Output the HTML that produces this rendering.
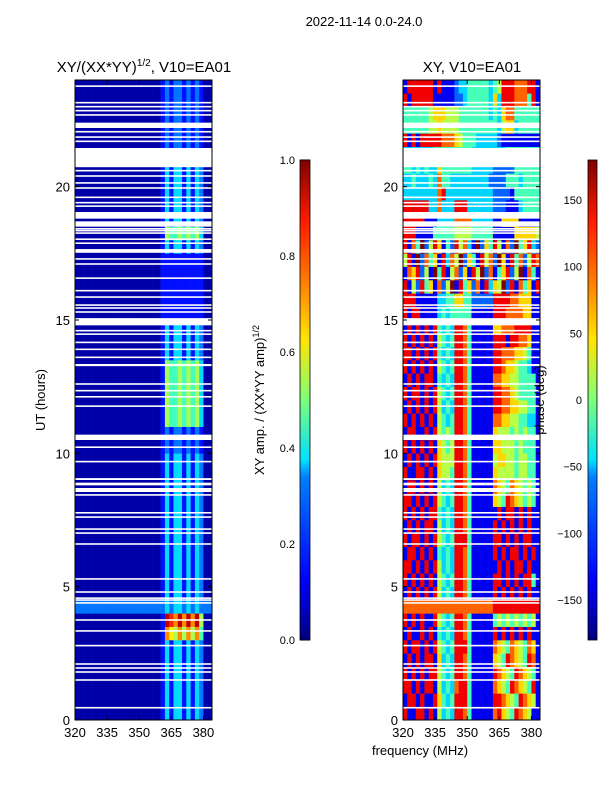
<!DOCTYPE html>
<html><head><meta charset="utf-8">
<style>
html,body{margin:0;padding:0;background:#fff;}
svg{display:block;font-family:"Liberation Sans",sans-serif;}
</style></head>
<body>
<svg id="fig" width="600" height="800" viewBox="0 0 600 800" xmlns="http://www.w3.org/2000/svg">
<defs>
<linearGradient id="jet" x1="0" y1="1" x2="0" y2="0">
<stop offset="0" stop-color="#00007f"/><stop offset="0.125" stop-color="#0000ff"/>
<stop offset="0.34" stop-color="#0080ff"/><stop offset="0.375" stop-color="#00e0ff"/>
<stop offset="0.5" stop-color="#7dff7a"/><stop offset="0.625" stop-color="#ffe600"/>
<stop offset="0.75" stop-color="#ff7a00"/><stop offset="0.875" stop-color="#ff1a00"/>
<stop offset="1" stop-color="#7f0000"/>
</linearGradient>
</defs>
<text x="364" y="26" font-size="13" text-anchor="middle">2022-11-14 0.0-24.0</text>
<text x="144" y="72" font-size="15" text-anchor="middle">XY/(XX*YY)<tspan font-size="10" dy="-6">1/2</tspan><tspan dy="6">, V10=EA01</tspan></text>
<text x="472" y="72" font-size="15" text-anchor="middle">XY, V10=EA01</text>
<g id="left"></g>
<g id="right"></g>
<g id="axes"></g>
<text x="45" y="400" font-size="13" text-anchor="middle" transform="rotate(-90 45 400)">UT (hours)</text>
<text x="420" y="755" font-size="13" text-anchor="middle">frequency (MHz)</text>
<rect x="300" y="160" width="10" height="480" fill="url(#jet)" stroke="#000" stroke-width="0.8"/>
<rect x="588" y="160" width="9" height="480" fill="url(#jet)" stroke="#000" stroke-width="0.8"/>
<text x="264" y="400" font-size="13" text-anchor="middle" transform="rotate(-90 264 400)">XY amp. / (XX*YY amp)<tspan font-size="9" dy="-5">1/2</tspan></text>
<text x="544" y="400" font-size="13" text-anchor="middle" transform="rotate(-90 544 400)">phase (deg)</text>
</svg>
<script>
const freqMin = 320, freqMax = 384;
const hourMin = 0, hourMax = 24;
const xTicks = [320, 335, 350, 365, 380];
const yTicks = [0, 5, 10, 15, 20];
const ampTicks = [0.0, 0.2, 0.4, 0.6, 0.8, 1.0];
const phaseTicks = [-150, -100, -50, 0, 50, 100, 150];
const ampProfiles = {
  A: "00000000000000000000131331313200",
  B: "00000000000000000000154454545300",
  C: "00000000000000000000176575757400",
  D: "00000000000000000000198797979500",
  E: "00000000000000000000121221212100",
  F: "00000000000000000000111111111100",
  S: "22222222222222222222232332323222"
};
const ampRowCodes = "AAAAAACDSAAAAAAAAAAAEEBBBBBAAAFFFFFABAAAAAEEEEEE";
const phaseRows = [
"81188181534388741111178654876511",
"18818118643488841111188765487651",
"88181881534378841111176548765481",
"81818188543488741111187654876541",
"18181881634388741111165487654871",
"81881818543488841111176547654761",
"18118181434388741111181818181811",
"81818118543488741111145454545451",
"77777777777777777777788888888888",
"18181818534388741111181818181811",
"81818181543488741111188181818841",
"88181818534388741111118181881811",
"18818181434388741111181818818181",
"81881818543488841111188181818811",
"18181881534388741111181818181811",
"81818188434388741111118188181811",
"88181818543488741111165487654541",
"18818181534388741111176547654541",
"81188181655488741111165555455441",
"18181818655588741111156655455441",
"81818181654588741111166555454441",
"18811818545488741111165554545441",
"81818181543488741111177665544331",
"18181818534388741111188776655441",
"81881818543488741111188776544441",
"18181881434388741111177665544441",
"81818181543488741111188766544311",
"88181818434388741111188777665411",
"81818181543488741111188818877611",
"18181818434388741111166777888811",
"81881111343444441111188877776611",
"88811111334466442222288887766611",
"81528461725918462718365928174618",
"17682519481572618592714682591741",
"58192746183759264185729618472587",
"81749258614285731926485172946832",
"88811114444455554444411111666665",
"88888111333377773333311666611111",
"88888833733388833333322211134444",
"33333333783333333333322221444444",
"33433343744333333333222244434444",
"44343433644444443333322222444444",
"33333334444444443333333344444444",
"81818888877765444333332111111111",
"44444455655554444444443566344444",
"44444456665554444444343677444444",
"81888881111122344444363888777481",
"18888881811123344444345888777881"
];
const flagged = [[0.43,0.49],[1.47,1.53],[1.77,1.83],[1.92,1.98],[2.07,2.13],[2.76,2.82],[3.31,3.37],[3.72,3.78],
[4.36,4.42],[4.47,4.53],[4.54,4.6],[4.77,4.83],[5.26,5.32],[6.57,6.63],[6.98,7.04],[7.13,7.19],[7.58,7.64],[7.74,7.8],
[8.41,8.47],[8.55,8.7],[8.8,8.9],[9.0,9.07],[9.66,9.72],[10.2,10.26],[10.5,10.7],[11.74,11.8],[12.09,12.15],[12.32,12.38],
[12.57,12.63],[13.27,13.35],[13.57,13.63],[13.87,13.93],[14.13,14.19],[14.44,14.5],[14.57,14.63],[14.8,15.07],[15.27,15.33],
[15.42,15.48],[15.53,15.59],[15.83,15.89],[16.07,16.13],[16.54,16.6],[17.07,17.13],[17.26,17.32],[17.52,17.66],[17.85,17.91],
[18.0,18.06],[18.23,18.29],[18.32,18.38],[18.39,18.45],[18.5,18.7],[18.8,19.05],[19.24,19.3],[19.37,19.43],[19.57,19.63],
[19.92,19.98],[20.11,20.17],[20.37,20.43],[20.57,20.63],[20.73,21.45],[21.67,21.73],[21.83,21.89],[22.03,22.09],[22.2,22.4],
[22.66,22.72],[22.82,22.88],[22.97,23.03],[23.12,23.18],[23.74,23.8]];

const NS = "http://www.w3.org/2000/svg";
const panels = [{x0:75,x1:212,g:"left"},{x0:403,x1:540,g:"right"}];
const yTop = 80, yBot = 720;
function yScale(h){ return yBot - (h - hourMin) / (hourMax - hourMin) * (yBot - yTop); }
function xScale(p, f){ return p.x0 + (f - freqMin) / (freqMax - freqMin) * (p.x1 - p.x0); }
function jet(t){
  t = Math.max(0, Math.min(1, t));
  const c = v => Math.round(255 * Math.max(0, Math.min(1, v)));
  return "rgb(" + c(1.5 - Math.abs(4*t - 3)) + "," + c(1.5 - Math.abs(4*t - 2)) + "," + c(1.5 - Math.abs(4*t - 1)) + ")";
}
function mk(tag, attrs, parent){ const e = document.createElementNS(NS, tag); for (const k in attrs) e.setAttribute(k, attrs[k]); parent.appendChild(e); return e; }

function drawHeat(p, rows, toT, cellName){
  const g = document.getElementById(p.g);
  const nr = rows.length, nc = rows[0].length;
  const df = (freqMax - freqMin) / nc, dh = (hourMax - hourMin) / nr;
  for (let i = 0; i < nr; i++) {
    for (let j = 0; j < nc; j++) {
      const x = xScale(p, freqMin + j*df), x2 = xScale(p, freqMin + (j+1)*df);
      const y = yScale(hourMin + (i+1)*dh), y2 = yScale(hourMin + i*dh);
      const r = mk("rect", {x: x, y: y, width: x2 - x + 0.3, height: y2 - y + 0.3, fill: jet(toT(+rows[i][j]))}, g);
      
      
    }
  }
  flagged.forEach(f => {
    const r = mk("rect", {x: p.x0, y: yScale(f[1]), width: p.x1 - p.x0, height: yScale(f[0]) - yScale(f[1]), fill: "#fff"}, g);
    
    
  });
}
const ampRows = ampRowCodes.split("").map(c => ampProfiles[c]);
drawHeat(panels[0], ampRows, d => d/10 + 0.04, 'amplitude-cell');
drawHeat(panels[1], phaseRows, d => (d*40) / 360, 'phase-cell');

const ax = document.getElementById("axes");
panels.forEach((p, k) => {
  const fr = mk("rect", {x: p.x0, y: yTop, width: p.x1 - p.x0, height: yBot - yTop, fill: "none", stroke: "#000", "stroke-width": 1}, ax);
  
  
  xTicks.forEach(v => {
    const x = xScale(p, v);
    mk("line", {x1: x, x2: x, y1: yBot, y2: yBot - 4, stroke: "#000"}, ax);
    mk("line", {x1: x, x2: x, y1: yTop, y2: yTop + 4, stroke: "#000"}, ax);
    const t = mk("text", {x: x, y: yBot + 17, "font-size": 13, "text-anchor": "middle"}, ax);
    t.textContent = v;
    
    
  });
  yTicks.forEach(v => {
    const y = yScale(v);
    mk("line", {x1: p.x0, x2: p.x0 + 4, y1: y, y2: y, stroke: "#000"}, ax);
    mk("line", {x1: p.x1, x2: p.x1 - 4, y1: y, y2: y, stroke: "#000"}, ax);
    const t = mk("text", {x: p.x0 - 5, y: y + 5, "font-size": 13, "text-anchor": "end"}, ax);
    t.textContent = v;
    
    
  });
});
ampTicks.forEach(v => {
  const y = 640 - v * 480;
  mk("line", {x1: 300, x2: 310, y1: y, y2: y, stroke: "#000"}, ax);
  const t = mk("text", {x: 295, y: y + 4, "font-size": 11, "text-anchor": "end"}, ax);
  t.textContent = v.toFixed(1);
  
  
});
phaseTicks.forEach(v => {
  const y = 400 - v * 480 / 360;
  mk("line", {x1: 588, x2: 597, y1: y, y2: y, stroke: "#000"}, ax);
  const t = mk("text", {x: 582, y: y + 4, "font-size": 11, "text-anchor": "end"}, ax);
  t.textContent = v < 0 ? "\u2212" + Math.abs(v) : v;
  
  
});
</script>
</body></html>
